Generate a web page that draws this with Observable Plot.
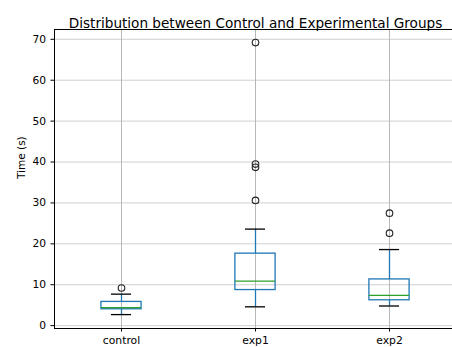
<!DOCTYPE html>
<html>
<head>
<meta charset="utf-8">
<script src="https://cdn.jsdelivr.net/npm/d3@7"></script>
<script src="https://cdn.jsdelivr.net/npm/@observablehq/plot@0.6"></script>
<style>
  html, body { margin: 0; padding: 0; background: white; overflow: hidden; }
  #chart { width: 452px; height: 347px; overflow: hidden; }
  #chart svg { max-width: none !important; width: 460px; height: 347px; }
</style>
</head>
<body>
<div id="chart"></div>
<script>
const title = "Distribution between Control and Experimental Groups";
const yLabel = "Time (s)";
const categories = ["control", "exp1", "exp2"];
const q1 = [4.0, 8.7, 6.2];
const median = [4.4, 10.9, 7.4];
const q3 = [5.8, 17.6, 11.3];
const whiskerLow = [2.7, 4.6, 4.8];
const whiskerHigh = [7.7, 23.6, 18.6];
const outlierGroup = ["control", "exp1", "exp1", "exp1", "exp1", "exp2", "exp2"];
const outlierValue = [9.2, 69.2, 39.5, 38.7, 30.6, 27.5, 22.6];
const yTicks = [0, 10, 20, 30, 40, 50, 60, 70];

const boxes = categories.map((c, i) => ({
  pos: i + 1, name: c, q1: q1[i], med: median[i], q3: q3[i], lo: whiskerLow[i], hi: whiskerHigh[i]
}));
const outliers = outlierGroup.map((g, i) => ({pos: categories.indexOf(g) + 1, v: outlierValue[i]}));

const BOX = 0.15, CAP = 0.075;
const blue = "#1f77b4", green = "#2ca02c";

const chart = Plot.plot({
  width: 460,
  height: 347,
  marginLeft: 54,
  marginRight: 4,
  marginTop: 29,
  marginBottom: 19,
  style: {fontFamily: "DejaVu Sans", fontSize: "10px", background: "white", color: "black", maxWidth: "none"},
  x: {domain: [0.5, 3.5], axis: null},
  y: {domain: [-0.7, 72.4], axis: null},
  marks: [
    Plot.gridY(yTicks, {stroke: "#b0b0b0", strokeOpacity: 0.6, strokeWidth: 1}),
    Plot.gridX([1, 2, 3], {stroke: "#b0b0b0", strokeOpacity: 0.9, strokeWidth: 1}),
    Plot.ruleX(boxes, {x: "pos", y1: "q3", y2: "hi", stroke: blue, strokeWidth: 1.3}),
    Plot.ruleX(boxes, {x: "pos", y1: "lo", y2: "q1", stroke: blue, strokeWidth: 1.3}),
    Plot.rect(boxes, {x1: d => d.pos - BOX, x2: d => d.pos + BOX, y1: "q1", y2: "q3", fill: "none", stroke: blue, strokeWidth: 1.3}),
    Plot.ruleY(boxes, {y: "med", x1: d => d.pos - BOX, x2: d => d.pos + BOX, stroke: green, strokeWidth: 1.3}),
    Plot.ruleY(boxes, {y: "hi", x1: d => d.pos - CAP, x2: d => d.pos + CAP, stroke: "black", strokeWidth: 1.3}),
    Plot.ruleY(boxes, {y: "lo", x1: d => d.pos - CAP, x2: d => d.pos + CAP, stroke: "black", strokeWidth: 1.3}),
    Plot.dot(outliers, {x: "pos", y: "v", r: 3.3, stroke: "#222", fill: "none", strokeWidth: 1.1}),
    Plot.frame({stroke: "black", strokeWidth: 1}),
    Plot.axisY(yTicks, {tickSize: 3.5, tickPadding: 5, fontSize: 10.7, label: null, stroke: "black"}),
    Plot.axisX([1, 2, 3], {tickFormat: d => categories[d - 1], tickSize: 3.5, tickPadding: 4, fontSize: 10.8, label: null, stroke: "black"}),
    Plot.text([yLabel], {frameAnchor: "left", dx: -33, rotate: -90, fontSize: 10.5}),
    Plot.text([title], {frameAnchor: "top", dy: -11.5, fontSize: 13.6})
  ]
});
document.getElementById("chart").append(chart);
</script>
</body>
</html>
